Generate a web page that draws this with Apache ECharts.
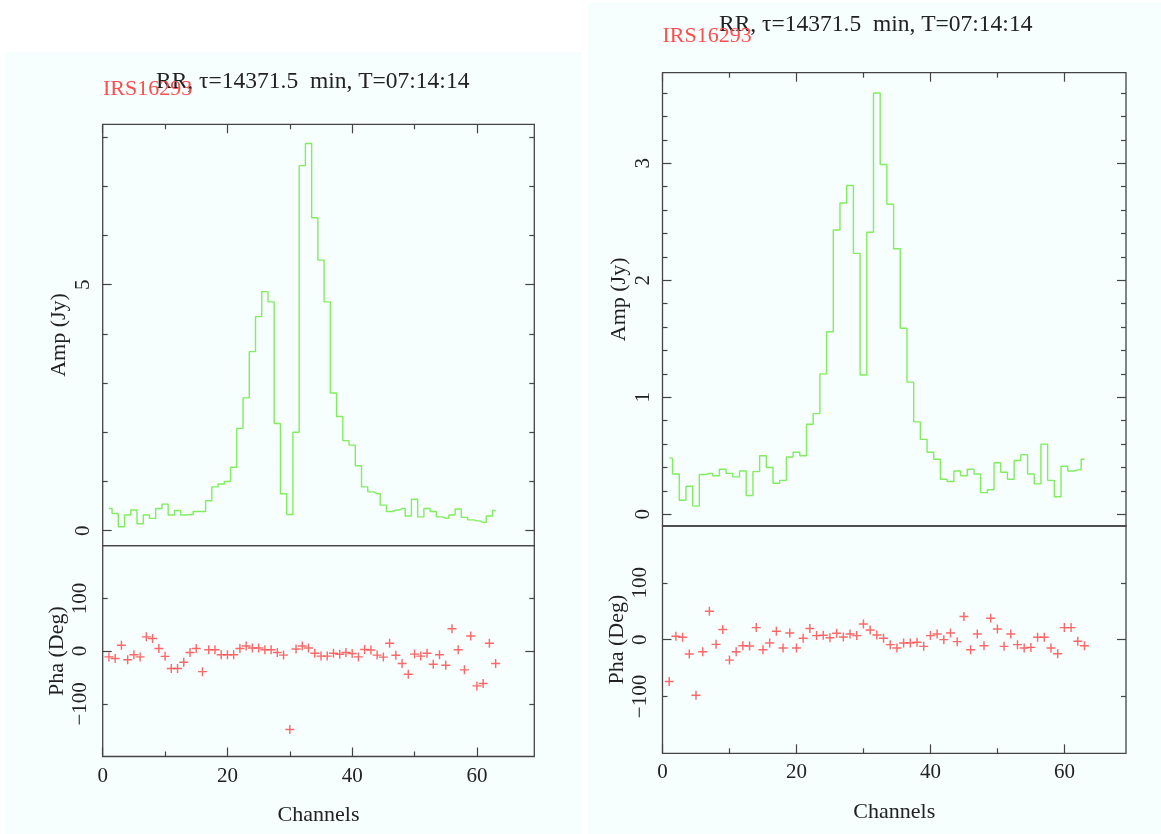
<!DOCTYPE html>
<html>
<head>
<meta charset="utf-8">
<script src="https://cdn.jsdelivr.net/npm/echarts@6/dist/echarts.min.js"></script>
<style>html,body{margin:0;padding:0;background:#fff}#c{width:1161px;height:834px}</style>
</head>
<body>
<div id="c"></div>
<script>
// ---------------- data ----------------
const channels = [1,2,3,4,5,6,7,8,9,10,11,12,13,14,15,16,17,18,19,20,21,22,23,24,25,26,27,28,29,30,31,32,33,34,35,36,37,38,39,40,41,42,43,44,45,46,47,48,49,50,51,52,53,54,55,56,57,58,59,60,61,62,63];
const ampLeft = [0.45,0.35,0.08,0.32,0.42,0.14,0.32,0.25,0.45,0.54,0.32,0.41,0.32,0.33,0.39,0.39,0.61,0.89,0.95,1.0,1.29,2.08,2.70,3.64,4.35,4.86,4.65,2.18,0.75,0.33,2.0,7.42,7.87,6.36,5.50,4.65,2.80,2.32,1.83,1.74,1.32,0.89,0.79,0.75,0.52,0.39,0.42,0.45,0.30,0.64,0.28,0.45,0.39,0.28,0.25,0.32,0.44,0.27,0.22,0.20,0.17,0.30,0.41];
const phaLeft = [-11,-14,11,-16.5,-7,-11,27,24,5,-10,-33,-33,-21,-2.5,5,-39,2.5,2.5,-7,-7,-7,5,9.5,6,6,2.5,2.5,-2.5,-7.6,-148.6,4,9.5,6,-4,-9.5,-9.5,-4,-6,-2.5,-4.5,-11,3,2,-7.6,-11.4,15,-8,-23.5,-44,-5.7,-9.5,-4,-25,-7,-27,42.5,2.5,-35.6,28.6,-66,-61.6,15,-23.5];
const ampRight = [0.48,0.345,0.12,0.24,0.07,0.34,0.35,0.33,0.385,0.35,0.32,0.37,0.16,0.365,0.5,0.40,0.265,0.29,0.49,0.53,0.5,0.77,0.86,1.20,1.56,2.43,2.66,2.81,2.23,1.19,2.41,3.60,2.99,2.65,2.27,1.59,1.13,0.79,0.64,0.53,0.47,0.30,0.28,0.37,0.33,0.385,0.345,0.185,0.21,0.44,0.36,0.30,0.46,0.51,0.345,0.26,0.60,0.29,0.15,0.41,0.37,0.38,0.47];
const phaRight = [-73.7,5.9,4.1,-25.4,-98,-21.2,50,-8.3,17.7,-36,-21.2,-10.6,-11.2,21.2,-17.7,-5.9,14.7,-14.7,11.8,-14.7,2.4,19.5,7.1,7.7,3.5,11.2,4.7,10,7.1,27.7,17.1,8.3,2.4,-8.8,-14.7,-5.9,-5.9,-4.7,-11.8,7.1,10,0,11.8,-3.5,40.7,-17.7,10,-10.6,37.8,18.9,-11.8,10,-8.8,-14.7,-13.6,4.1,4.1,-14.7,-24.8,21.2,21.2,-2.9,-10.6];

const xMajorTicks = [0,20,40,60];
const xMinorTicks = [10,30,50];
const ampLeftMajor = [0,5];
const ampLeftMinor = [1,2,3,4,6,7,8];
const ampRightMajor = [0,1,2,3];
const ampRightMinor = [0.2,0.4,0.6,0.8,1.2,1.4,1.6,1.8,2.2,2.4,2.6,2.8,3.2,3.4,3.6];
const phaMajor = [0];
const phaMinor = [-100,100];
const phaLabels = [-100,0,100];

const titleText = 'RR, \u03c4=14371.5  min, T=07:14:14';
const sourceText = 'IRS16293';
const xName = 'Channels';
const ampName = 'Amp (Jy)';
const phaName = 'Pha (Deg)';

// ---------------- style ----------------
const FONT = 'Liberation Serif';
const AXC = '#444';
const TXT = '#222';
const GREEN = '#80ee5e';
const RED = '#ff4d4d';
const BG = '#f7fefe';
const MAJ = 9, MIN = 5;

const pair = (xs, ys) => xs.map((x, i) => [x, ys[i]]);
const fmt = v => (v < 0 ? '\u2212' + Math.abs(v) : String(v));

function xAx(grid, pos, ticks, len, labels, name) {
  const a = {
    type: 'value', gridIndex: grid, position: pos, min: 0, max: 69.2,
    axisLine: { show: false, onZero: false },
    splitLine: { show: false },
    axisTick: { show: true, inside: true, length: len, customValues: ticks, lineStyle: { color: AXC, width: 1.2 } },
    axisLabel: { show: !!labels }
  };
  if (labels) {
    a.axisLabel = { show: true, customValues: labels, fontFamily: FONT, fontSize: 21, color: TXT, margin: 9 };
  }
  if (name) {
    a.name = name; a.nameLocation = 'middle'; a.nameGap = 48;
    a.nameTextStyle = { fontFamily: FONT, fontSize: 22, color: TXT };
  }
  return a;
}
function yAx(grid, pos, min, max, ticks, len, labels, name, margin, nameGap) {
  const a = {
    type: 'value', gridIndex: grid, position: pos, min: min, max: max,
    axisLine: { show: false, onZero: false },
    splitLine: { show: false },
    axisTick: { show: true, inside: true, length: len, customValues: ticks, lineStyle: { color: AXC, width: 1.2 } },
    axisLabel: { show: false }
  };
  if (labels) {
    a.axisLabel = { show: true, customValues: labels, rotate: 90, fontFamily: FONT, fontSize: 21, color: TXT, margin: margin, formatter: fmt };
  }
  if (name) {
    a.name = name; a.nameLocation = 'middle'; a.nameGap = nameGap; a.nameRotate = 90;
    a.nameTextStyle = { fontFamily: FONT, fontSize: 22, color: TXT };
  }
  return a;
}

const gridBase = { show: true, borderColor: AXC, borderWidth: 1.3, backgroundColor: 'transparent', containLabel: false, outerBoundsMode: 'none' };
const grids = [
  Object.assign({ left: 102.7, top: 124.3, width: 431.6, height: 421.4 }, gridBase),
  Object.assign({ left: 102.7, top: 545.7, width: 431.6, height: 210.8 }, gridBase),
  Object.assign({ left: 662.5, top: 72.7, width: 463.5, height: 453.3 }, gridBase),
  Object.assign({ left: 662.5, top: 526, width: 463.5, height: 227.3 }, gridBase)
];

const xAxes = [
  xAx(0, 'top', xMajorTicks, MAJ),
  xAx(0, 'top', xMinorTicks, MIN),
  xAx(1, 'bottom', xMajorTicks, MAJ, xMajorTicks, xName),
  xAx(1, 'bottom', xMinorTicks, MIN),
  xAx(2, 'top', xMajorTicks, MAJ),
  xAx(2, 'top', xMinorTicks, MIN),
  xAx(3, 'bottom', xMajorTicks, MAJ, xMajorTicks, xName),
  xAx(3, 'bottom', xMinorTicks, MIN)
];
const yAxes = [
  yAx(0, 'left', -0.305, 8.26, ampLeftMajor, MAJ, ampLeftMajor, ampName, 9, 32),
  yAx(0, 'left', -0.305, 8.26, ampLeftMinor, MIN),
  yAx(0, 'right', -0.305, 8.26, ampLeftMajor, MAJ),
  yAx(0, 'right', -0.305, 8.26, ampLeftMinor, MIN),
  yAx(1, 'left', -200, 200, phaMajor, MAJ, phaLabels, phaName, 12, 34),
  yAx(1, 'left', -200, 200, phaMinor, MIN),
  yAx(1, 'right', -200, 200, phaMajor, MAJ),
  yAx(1, 'right', -200, 200, phaMinor, MIN),
  yAx(2, 'left', -0.1, 3.774, ampRightMajor, MAJ, ampRightMajor, ampName, 9, 32),
  yAx(2, 'left', -0.1, 3.774, ampRightMinor, MIN),
  yAx(2, 'right', -0.1, 3.774, ampRightMajor, MAJ),
  yAx(2, 'right', -0.1, 3.774, ampRightMinor, MIN),
  yAx(3, 'left', -200, 200, phaMajor, MAJ, phaLabels, phaName, 12, 34),
  yAx(3, 'left', -200, 200, phaMinor, MIN),
  yAx(3, 'right', -200, 200, phaMajor, MAJ),
  yAx(3, 'right', -200, 200, phaMinor, MIN)
];

const plus = 'path://M4.2,0H5.8V4.2H10V5.8H5.8V10H4.2V5.8H0V4.2H4.2Z';
function stepSeries(xi, yi, vals) {
  return { type: 'line', xAxisIndex: xi, yAxisIndex: yi, data: pair(channels, vals), step: 'middle',
    showSymbol: false, symbol: 'none', lineStyle: { color: GREEN, width: 1.4 }, silent: true, animation: false };
}
function phaseSeries(xi, yi, vals) {
  return { type: 'scatter', xAxisIndex: xi, yAxisIndex: yi, data: pair(channels, vals), symbol: plus,
    symbolSize: 9, itemStyle: { color: RED, opacity: 0.85 }, silent: true, animation: false };
}

const txt = (x, y, text, size, color, z) => ({
  type: 'text', x: x, y: y, z: z || 20, silent: true,
  style: { text: text, fontFamily: FONT, fontSize: size, fill: color, align: 'left', verticalAlign: 'middle' }
});

const option = {
  backgroundColor: '#ffffff',
  animation: false,
  grid: grids,
  xAxis: xAxes,
  yAxis: yAxes,
  graphic: [
    { type: 'rect', z: -100, silent: true, shape: { x: 5, y: 52, width: 577, height: 782 }, style: { fill: BG } },
    { type: 'rect', z: -100, silent: true, shape: { x: 588, y: 3, width: 573, height: 831 }, style: { fill: BG } },
    txt(156, 82, titleText, 23.5, TXT, 20),
    txt(103, 89, sourceText, 22, RED, 21),
    txt(719, 25, titleText, 23.5, TXT, 20),
    txt(662.5, 36, sourceText, 22, RED, 21)
  ],
  series: [
    stepSeries(0, 0, ampLeft),
    phaseSeries(2, 4, phaLeft),
    stepSeries(4, 8, ampRight),
    phaseSeries(6, 12, phaRight)
  ]
};

const chart = echarts.init(document.getElementById('c'), null, { renderer: 'canvas' });
chart.setOption(option);
</script>
</body>
</html>
